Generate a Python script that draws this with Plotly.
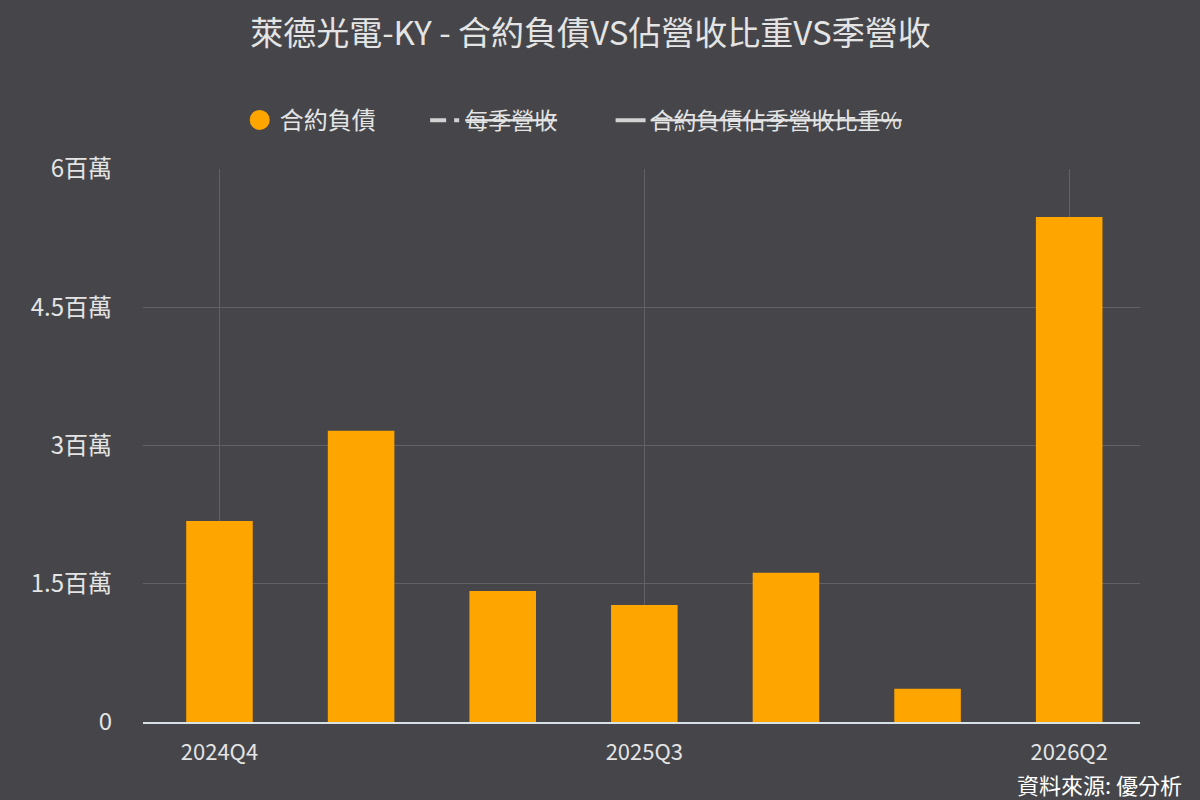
import plotly.graph_objects as go

QUARTERS = ['2024Q4', '2025Q1', '2025Q2', '2025Q3', '2025Q4', '2026Q1', '2026Q2']
CONTRACT_LIAB = [2180000, 3160000, 1420000, 1270000, 1620000, 360000, 5480000]

Y_TICKS = [0, 1500000, 3000000, 4500000, 6000000]
Y_TICK_TEXT = ['0', '1.5百萬', '3百萬', '4.5百萬', '6百萬']
X_TICKS = ['2024Q4', '2025Q3', '2026Q2']

BG = '#46464a'
FONT = 'Noto Sans CJK TC'
TEXT = '#e4e4e4'

fig = go.Figure()

fig.add_trace(go.Bar(
    name='合約負債',
    x=QUARTERS,
    y=CONTRACT_LIAB,
    marker=dict(color='#ffa500', line=dict(width=0)),
    width=0.47,
    showlegend=False,
))

# legend entries only (the two line series are switched off in the source)
fig.add_trace(go.Scatter(
    name='合約負債',
    x=[None], y=[None],
    mode='markers',
    marker=dict(color='#ffa500', size=16, symbol='circle',
                line=dict(color='#ffa500', width=4)),
    legend='legend',
))
fig.add_trace(go.Scatter(
    name='每季營收',
    x=[None], y=[None],
    mode='lines',
    line=dict(color='#d2d2d2', width=4, dash='16px,8px,5px,30px'),
    legend='legend2',
))
fig.add_trace(go.Scatter(
    name='合約負債佔季營收比重%',
    x=[None], y=[None],
    mode='lines',
    line=dict(color='#d2d2d2', width=4),
    legend='legend3',
))

legend_common = dict(orientation='h', y=1.088, yanchor='middle',
                     xanchor='left', bgcolor='rgba(0,0,0,0)',
                     itemsizing='trace')

fig.update_layout(
    width=1200,
    height=800,
    paper_bgcolor=BG,
    plot_bgcolor=BG,
    font=dict(family=FONT, color=TEXT, size=20),
    title=dict(
        text='萊德光電-KY - 合約負債VS佔營收比重VS季營收',
        x=0.492, xanchor='center',
        y=0.958, yanchor='middle',
        font=dict(size=33, color=TEXT),
    ),
    legend=dict(legend_common, x=0.097,
                font=dict(size=24, color=TEXT)),
    legend2=dict(legend_common, x=0.283,
                 font=dict(size=23, color=TEXT, lineposition='through')),
    legend3=dict(legend_common, x=0.469,
                 font=dict(size=23, color=TEXT, lineposition='through')),
    margin=dict(l=143, r=60, t=169, b=78),
    xaxis=dict(
        type='category',
        categoryorder='array',
        categoryarray=QUARTERS,
        range=[-0.54, 6.5],
        tickmode='array',
        tickvals=X_TICKS,
        ticktext=X_TICKS,
        showgrid=True,
        gridcolor='#626266',
        gridwidth=1,
        showline=True,
        linecolor='#d8e0e8',
        linewidth=2,
        ticks='',
        tickfont=dict(size=22, color=TEXT),
        ticklabelstandoff=10,
    ),
    yaxis=dict(
        range=[0, 6000000],
        tickmode='array',
        tickvals=Y_TICKS,
        ticktext=Y_TICK_TEXT,
        showgrid=True,
        gridcolor='#626266',
        gridwidth=1,
        zeroline=False,
        ticks='',
        tickfont=dict(size=24, color=TEXT),
        ticklabelstandoff=30,
    ),
    annotations=[dict(
        text='資料來源: 優分析',
        xref='paper', yref='paper',
        x=1.044, y=-0.113,
        xanchor='right', yanchor='middle',
        showarrow=False,
        font=dict(size=22, color='#ffffff'),
    )],
)

fig.write_html('out.html', config={'displayModeBar': False},
               post_script="document.body.style.margin='0';")
